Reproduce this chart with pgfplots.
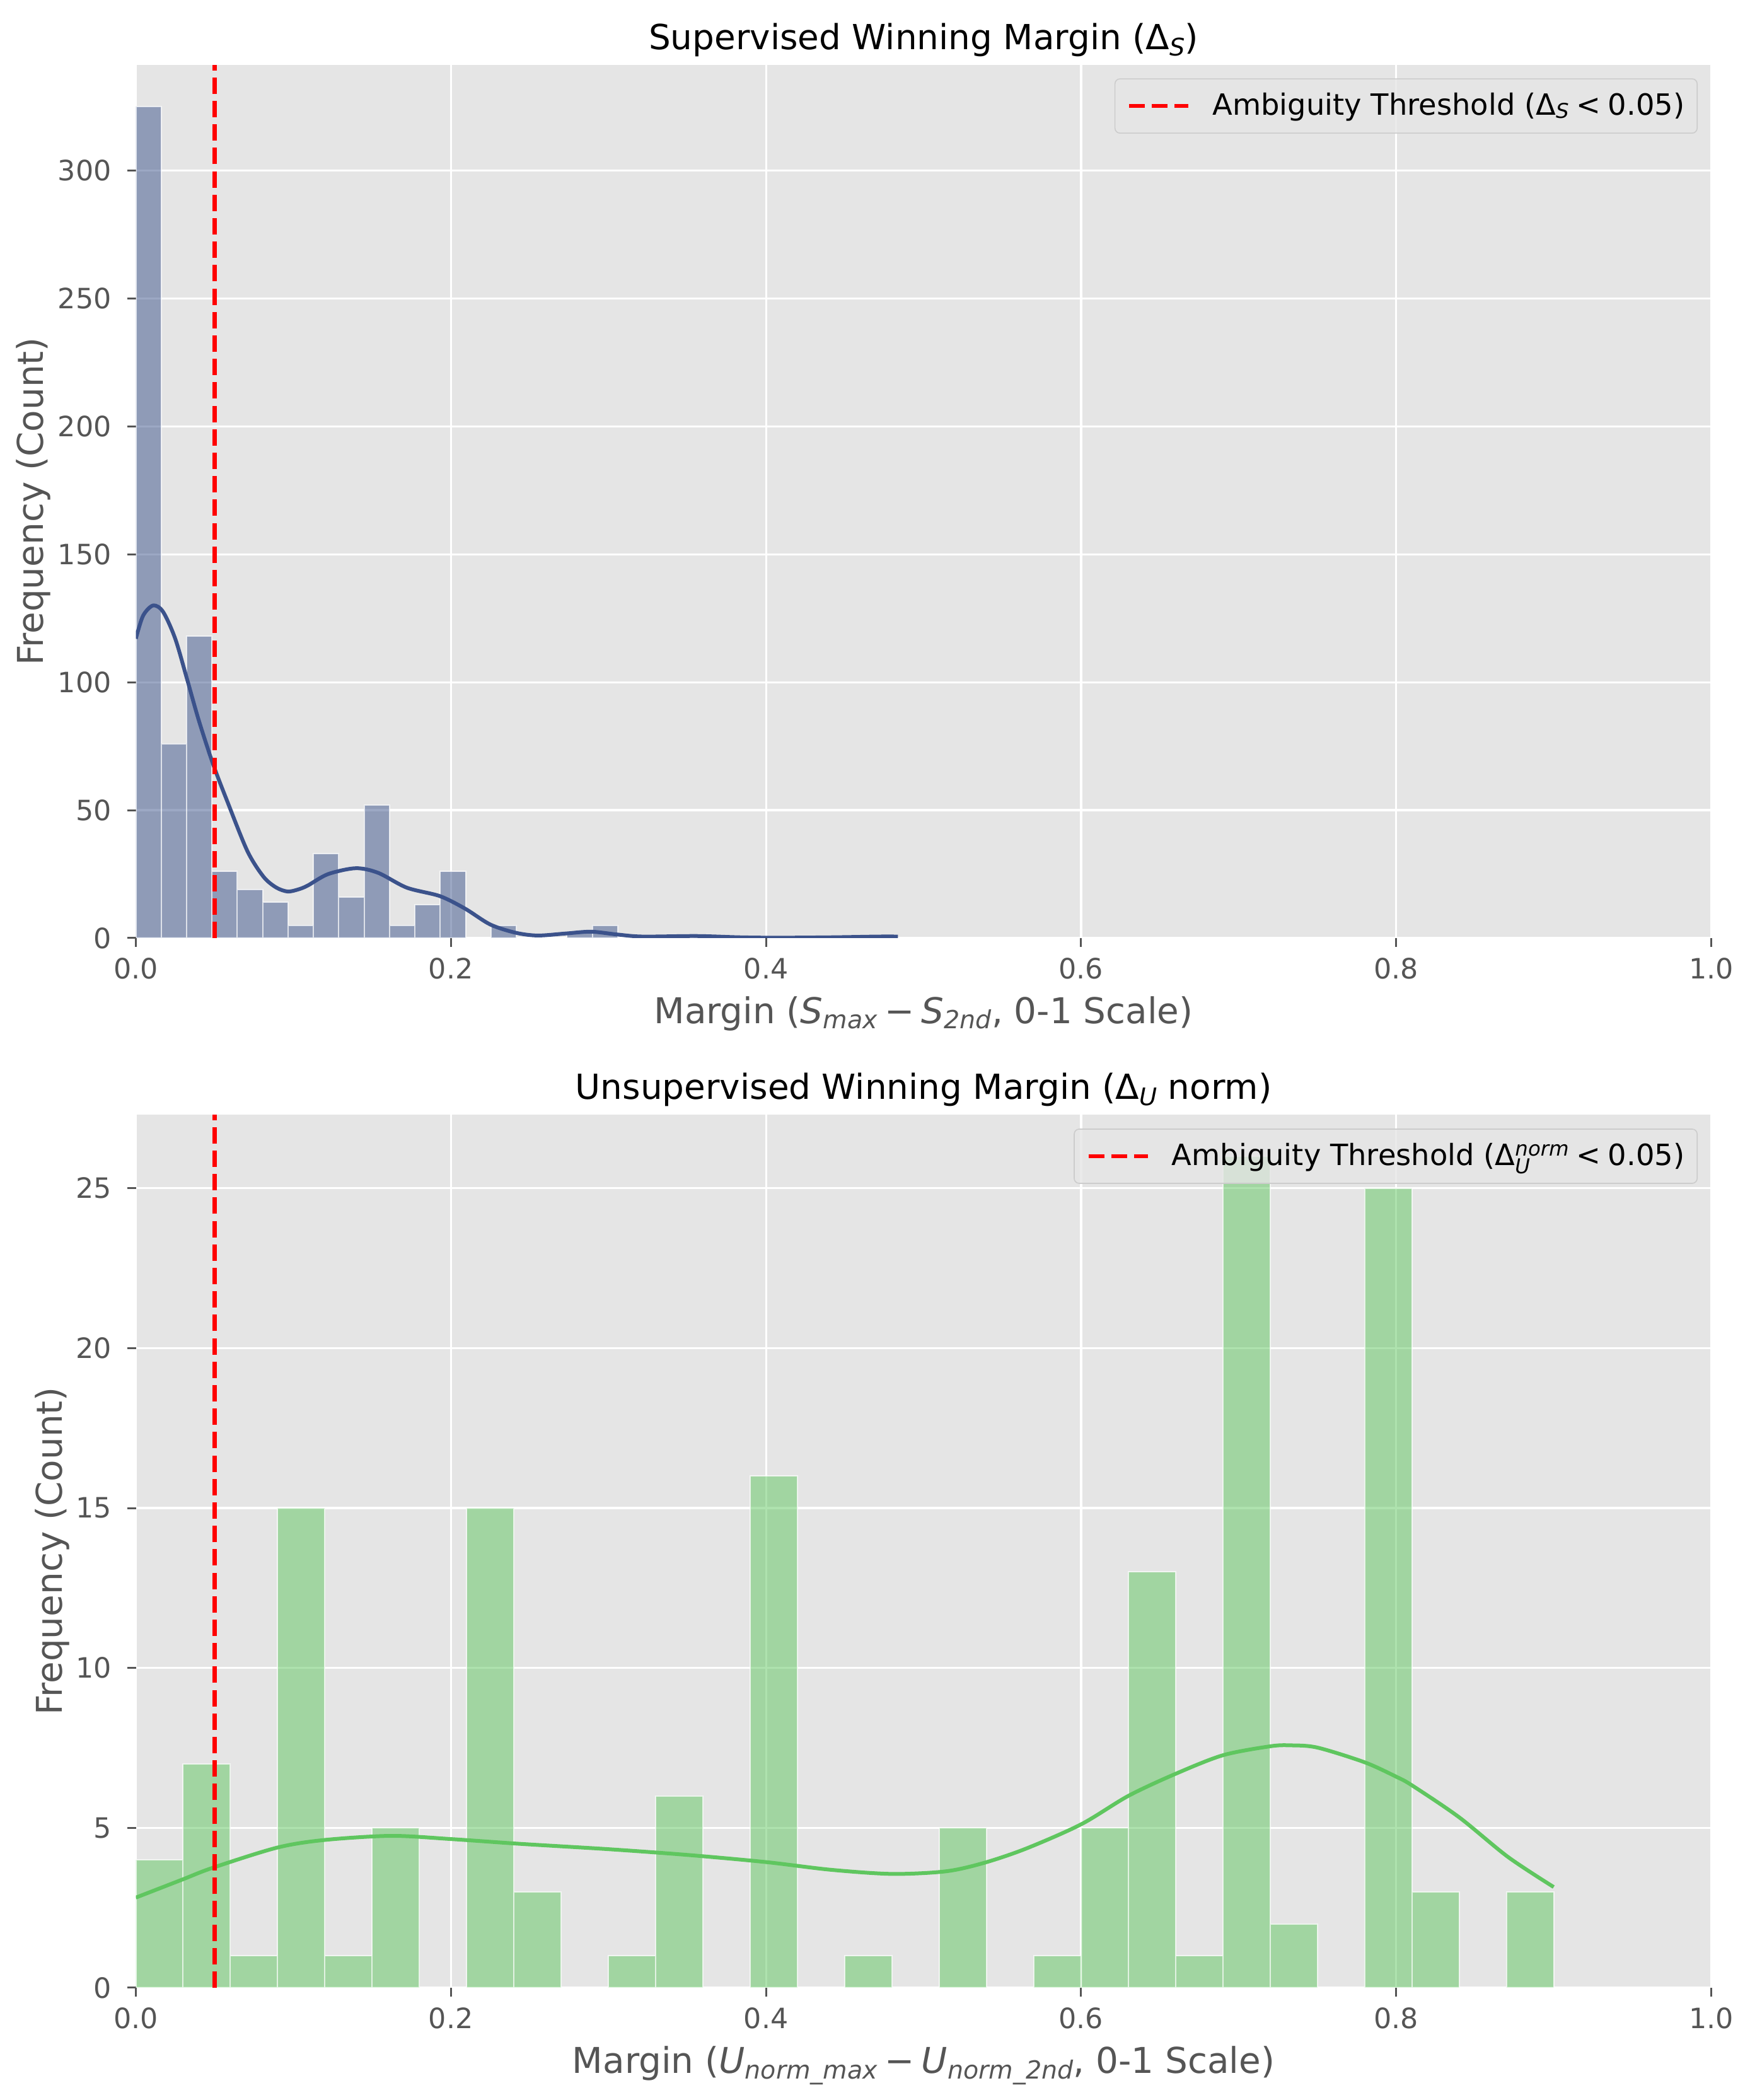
\documentclass[border=0pt]{standalone}
\usepackage{fontspec}
\setmainfont{DejaVu Sans}
\usepackage{pgfplots}
\pgfplotsset{compat=1.18}
\definecolor{bg}{HTML}{E5E5E5}
\definecolor{tk}{HTML}{555555}
\definecolor{topc}{RGB}{59,82,139}
\definecolor{botc}{RGB}{95,198,95}
\newcommand{\titlefont}{\fontsize{13.7}{16}\selectfont}
\newcommand{\labfont}{\fontsize{14.1}{17}\selectfont}
\newcommand{\tickfont}{\fontsize{11.1}{13}\selectfont}
\newcommand{\legfont}{\fontsize{11.6}{13}\selectfont}
% sub/superscripts in the style of mathtext
\newcommand{\tsub}[1]{\raisebox{-2.3pt}{\fontsize{9.6}{10}\selectfont\itshape #1}}
\newcommand{\xsub}[1]{\raisebox{-2.1pt}{\fontsize{9.9}{10}\selectfont\itshape #1}}
\newcommand{\lsub}[1]{\raisebox{-1.3pt}{\fontsize{8.1}{9}\selectfont\itshape #1}}
\newcommand{\lsubb}[1]{\raisebox{-3.2pt}{\fontsize{8.1}{9}\selectfont\itshape #1}}
\newcommand{\lsup}[1]{\raisebox{3.9pt}{\fontsize{8.1}{9}\selectfont\itshape #1}}
\pgfplotsset{
  gg/.style={
    scale only axis, width=624.75pt, height=346.25pt,
    xmin=0, xmax=1, ymin=0,
    axis background/.style={fill=bg},
    axis line style={draw=none},
    grid=major, major grid style={white, line width=0.8pt},
    tick align=outside, tick pos=left,
    major tick length=3.5pt,
    every tick/.style={tk, line width=0.75pt},
    xtick={0,0.2,0.4,0.6,0.8,1},
    /pgf/number format/assume math mode=true,
    xticklabel={\pgfmathprintnumber[fixed,fixed zerofill,precision=1]{\tick}},
    ticklabel style={font=\tickfont, text=tk},
    xticklabel style={anchor=base, inner sep=0pt, yshift=-12.6pt},
    yticklabel style={anchor=east, inner sep=0pt, xshift=-6pt},
    xlabel style={at={(axis description cs:0.5,0)}, anchor=base, yshift=-33.9pt, font=\labfont, text=tk},
    title style={at={(axis description cs:0.5,1)}, anchor=base, font=\titlefont, text=black},
    legend style={anchor=north east, fill=bg, fill opacity=0.8, text opacity=1, draw=black!20,
      rounded corners=2pt, font=\legfont, inner xsep=5pt, inner ysep=5.6pt,
      nodes={inner sep=0pt}},
    legend cell align=left,
    legend image code/.code={\path[draw=none, fill=none] (0pt,-1pt) rectangle (33pt,1pt);
      \draw[red, line width=1.4pt, dash pattern=on 6.2pt off 2.8pt] (0pt,0pt) -- (23.5pt,0pt);},
  },
  hbar/.style={ybar, bar shift=0pt, draw=white, draw opacity=0.7, line width=0.5pt, fill opacity=0.5, forget plot},
}
\begin{document}
\begin{tikzpicture}
\path[use as bounding box] (0,0) rectangle (693.75pt,832.75pt);
% ---------------- top panel ----------------
\begin{axis}[gg, at={(53.875pt,460.75pt)}, anchor=south west,
  ymax=341.25, ytick={0,50,100,150,200,250,300},
  ylabel={Frequency (Count)},
  ylabel style={at={([xshift=-36.8pt]axis description cs:0,0.5)}, anchor=base, font=\labfont, text=tk},
  title={Supervised Winning Margin (Δ\tsub{S})},
  xlabel={Margin (\textit{S}\xsub{max}\hspace{0.2em}−\hspace{0.2em}\textit{S}\xsub{2nd}, 0-1 Scale)},
  legend style={at={(0.9914,0.9846)}},
]
\addplot[hbar, bar width=0.0161, fill=topc] coordinates {
(0.00805,325) (0.02415,76) (0.04025,118) (0.05635,26) (0.07245,19)
(0.08855,14) (0.10465,5) (0.12075,33) (0.13685,16) (0.15295,52)
(0.16905,5) (0.18515,13) (0.20125,26) (0.23345,5) (0.28175,2)
(0.29785,5) (0.36225,1) (0.47495,1)
};
\addplot[topc, line width=1.5pt, smooth, forget plot] coordinates {
(0,117) (0.0046,126) (0.011,130) (0.0173,127.5) (0.025,117) (0.0326,101)
(0.040,85) (0.049,68) (0.058,53.5) (0.0708,34) (0.081,24) (0.089,19.8) (0.0963,18.2)
(0.103,19) (0.109,20.5) (0.122,25) (0.1396,27.3) (0.1538,25.5) (0.172,19.7) (0.193,16.4)
(0.209,11.5) (0.225,5.3) (0.241,2.1) (0.255,1.0) (0.273,1.8) (0.289,2.5)
(0.3055,1.4) (0.3216,0.6) (0.356,0.8) (0.3837,0.3) (0.4067,0.15) (0.441,0.3)
(0.471,0.6) (0.4837,0.6)
};
\addplot[red, line width=1.7pt, dash pattern=on 6.5pt off 2.8pt] coordinates {(0.05,0) (0.05,341.25)};
\addlegendentry{Ambiguity Threshold (Δ\lsub{S}\hspace{0.25em}<\hspace{0.25em}0.05)}
\end{axis}
% ---------------- bottom panel ----------------
\begin{axis}[gg, at={(53.875pt,44.5pt)}, anchor=south west,
  ymax=27.3, ytick={0,5,10,15,20,25},
  ylabel={Frequency (Count)},
  ylabel style={at={([xshift=-29.3pt]axis description cs:0,0.5)}, anchor=base, font=\labfont, text=tk},
  title={Unsupervised Winning Margin (Δ\tsub{U} norm)},
  xlabel={Margin (\textit{U}\xsub{norm\_max}\hspace{0.2em}−\hspace{0.2em}\textit{U}\xsub{norm\_2nd}, 0-1 Scale)},
  legend style={at={(0.9914,0.984)}},
]
\addplot[hbar, bar width=0.03, fill=botc] coordinates {
(0.015,4) (0.045,7) (0.075,1) (0.105,15) (0.135,1) (0.165,5)
(0.225,15) (0.255,3) (0.315,1) (0.345,6) (0.405,16) (0.465,1)
(0.525,5) (0.585,1) (0.615,5) (0.645,13) (0.675,1) (0.705,26)
(0.735,2) (0.795,25) (0.825,3) (0.885,3)
};
\addplot[botc, line width=1.5pt, smooth, forget plot] coordinates {
(0,2.82) (0.0293,3.38) (0.0487,3.75) (0.0895,4.38) (0.1195,4.62) (0.162,4.75)
(0.2,4.65) (0.244,4.5) (0.301,4.33) (0.351,4.15) (0.4,3.93) (0.441,3.69)
(0.48,3.56) (0.514,3.64) (0.538,3.90) (0.565,4.35) (0.6,5.11) (0.63,6.0)
(0.66,6.69) (0.69,7.27) (0.72,7.55) (0.733,7.58) (0.75,7.51) (0.78,7.05)
(0.8,6.6) (0.81,6.33) (0.84,5.33) (0.871,4.09) (0.9,3.15)
};
\addplot[red, line width=1.7pt, dash pattern=on 6.5pt off 2.8pt] coordinates {(0.05,0) (0.05,27.3)};
\addlegendentry{Ambiguity Threshold (Δ\rlap{\lsubb{U}}\lsup{norm}\hspace{0.25em}<\hspace{0.25em}0.05)}
\end{axis}
\end{tikzpicture}
\end{document}
